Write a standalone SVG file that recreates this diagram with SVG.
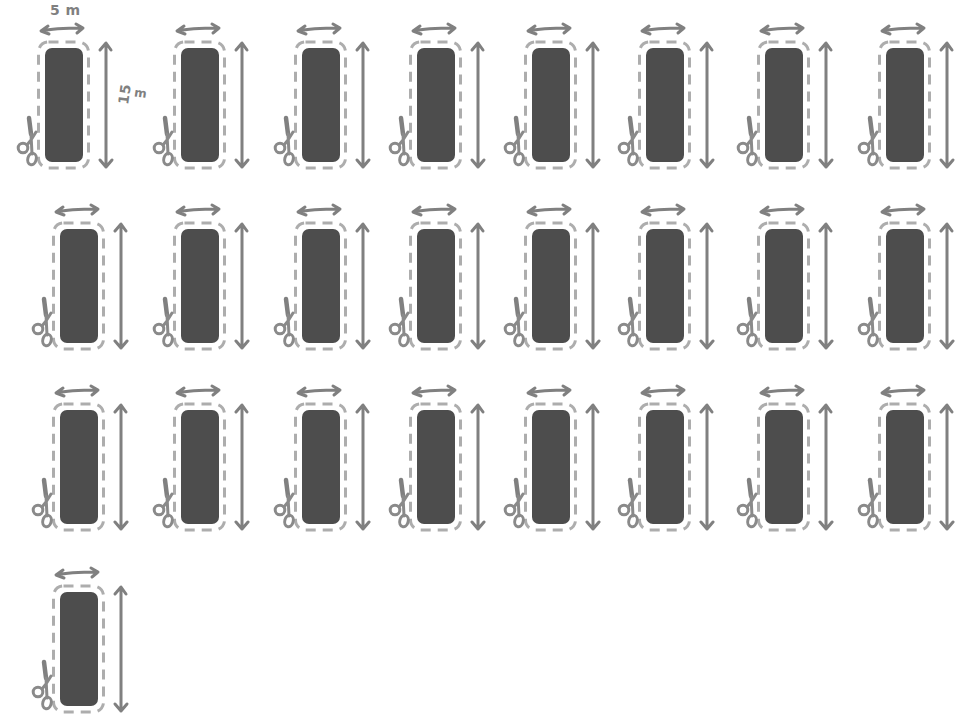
<svg xmlns="http://www.w3.org/2000/svg" width="962" height="715" viewBox="0 0 962 715">
<style>
.a{fill:none;stroke:#808080;stroke-width:3;stroke-linecap:round;stroke-linejoin:round}
.s{fill:none;stroke:#8a8a8a;stroke-width:3;stroke-linecap:round;stroke-linejoin:round}
.d{fill:none;stroke:#adadad;stroke-width:3;stroke-dasharray:10 7}
.b{fill:#4d4d4d}
.t{font-family:"DejaVu Sans",sans-serif;font-size:14px;font-weight:bold;fill:#808080}
.m{font-size:12px}
</style>
<defs>
<g id="unit">
<rect class="b" x="0" y="0" width="38" height="114" rx="7"/>
<rect class="d" x="-6.500" y="-6" width="50" height="126" rx="10"/>
<path class="a" d="M-3-17C8-20 24-20 38-20M3-22L-4-17L4-14M31-24L38-20L32-15"/>
<path class="a" d="M61-4V119M55 2L61-5L66 2M55 112L61 119L67 112"/>
<path d="M-16 70L-14 86" fill="none" stroke="#808080" stroke-width="4.500" stroke-linecap="round"/>
<path class="s" d="M-9 84L-14 92L-18 97M-14 86L-13 106"/>
<circle class="s" cx="-22" cy="100" r="4.800"/>
<ellipse class="s" cx="-13" cy="111" rx="4.200" ry="5.800" transform="rotate(15 -13 111)"/>
</g>
</defs>
<g id="connectors"></g>
<g id="r1"><use id="n1" href="#unit" x="45" y="48"/><use id="n2" href="#unit" x="181" y="48"/><use id="n3" href="#unit" x="302" y="48"/><use id="n4" href="#unit" x="417" y="48"/><use id="n5" href="#unit" x="532" y="48"/><use id="n6" href="#unit" x="646" y="48"/><use id="n7" href="#unit" x="765" y="48"/><use id="n8" href="#unit" x="886" y="48"/></g>
<g id="r2"><use id="n9" href="#unit" x="60" y="229"/><use id="n10" href="#unit" x="181" y="229"/><use id="n11" href="#unit" x="302" y="229"/><use id="n12" href="#unit" x="417" y="229"/><use id="n13" href="#unit" x="532" y="229"/><use id="n14" href="#unit" x="646" y="229"/><use id="n15" href="#unit" x="765" y="229"/><use id="n16" href="#unit" x="886" y="229"/></g>
<g id="r3"><use id="n17" href="#unit" x="60" y="410"/><use id="n18" href="#unit" x="181" y="410"/><use id="n19" href="#unit" x="302" y="410"/><use id="n20" href="#unit" x="417" y="410"/><use id="n21" href="#unit" x="532" y="410"/><use id="n22" href="#unit" x="646" y="410"/><use id="n23" href="#unit" x="765" y="410"/><use id="n24" href="#unit" x="886" y="410"/></g>
<g id="r4"><use id="n25" href="#unit" x="60" y="592"/></g>
<text class="t" x="50" y="15" textLength="30">5 m</text>
<text class="t" transform="translate(128 105) rotate(-82)" textLength="20">15</text>
<text class="t m" x="134" y="97" transform="rotate(8 139 95)">m</text>
</svg>
